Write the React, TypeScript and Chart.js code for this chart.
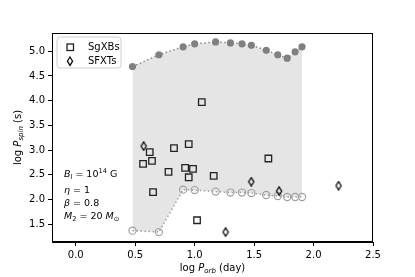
import React, { useEffect, useRef } from 'react';
import { Chart, registerables } from 'chart.js';

Chart.register(...registerables);

// log P_orb (day) of the model grid (3,5,8,10,15,20,25,30,40,50,60,70,80 d)
const curveLogPorb = [0.477, 0.699, 0.903, 1.0, 1.176, 1.301, 1.398, 1.477, 1.602, 1.699, 1.778, 1.845, 1.903];
const upperLogPspin = [4.69, 4.93, 5.09, 5.15, 5.19, 5.17, 5.15, 5.12, 5.02, 4.93, 4.86, 4.99, 5.09];
const lowerLogPspin = [1.37, 1.34, 2.2, 2.19, 2.16, 2.14, 2.14, 2.13, 2.09, 2.07, 2.05, 2.05, 2.05];

const sgxbLogPorb = [0.566, 0.622, 0.641, 0.65, 0.78, 0.826, 0.92, 0.95, 0.95, 0.986, 1.02, 1.06, 1.16, 1.62];
const sgxbLogPspin = [2.72, 2.96, 2.78, 2.15, 2.56, 3.04, 2.64, 3.12, 2.45, 2.62, 1.58, 3.97, 2.48, 2.83];

const sfxtLogPorb = [0.571, 1.26, 1.476, 1.71, 2.21];
const sfxtLogPspin = [3.08, 1.34, 2.36, 2.17, 2.28];

const xTickValues = [0, 0.5, 1.0, 1.5, 2.0, 2.5];
const yTickValues = [1.5, 2.0, 2.5, 3.0, 3.5, 4.0, 4.5, 5.0];
const legendLabels = ['SgXBs', 'SFXTs'];

const FONT = "'DejaVu Sans', sans-serif";
const FS = 10;

type Part = { t: string; it?: boolean; sub?: boolean; sup?: boolean };

function richWidth(ctx: CanvasRenderingContext2D, parts: Part[], size: number) {
  let w = 0;
  for (const p of parts) {
    const s = p.sub || p.sup ? size * 0.7 : size;
    ctx.font = `${p.it ? 'italic ' : ''}${s}px ${FONT}`;
    w += ctx.measureText(p.t).width;
  }
  return w;
}

function drawRich(ctx: CanvasRenderingContext2D, parts: Part[], x: number, y: number, size: number) {
  let cx = x;
  ctx.textBaseline = 'alphabetic';
  ctx.textAlign = 'left';
  for (const p of parts) {
    const s = p.sub || p.sup ? size * 0.7 : size;
    ctx.font = `${p.it ? 'italic ' : ''}${s}px ${FONT}`;
    const dy = p.sub ? size * 0.22 : p.sup ? -size * 0.4 : 0;
    ctx.fillText(p.t, cx, y + dy);
    cx += ctx.measureText(p.t).width;
  }
}

function makeDiamond(): HTMLCanvasElement {
  const c = document.createElement('canvas');
  c.width = 8;
  c.height = 10;
  const g = c.getContext('2d')!;
  g.beginPath();
  g.moveTo(4, 0.8);
  g.lineTo(6.6, 5);
  g.lineTo(4, 9.2);
  g.lineTo(1.4, 5);
  g.closePath();
  g.lineWidth = 1.3;
  g.strokeStyle = '#111';
  g.stroke();
  return c;
}

const decorPlugin = {
  id: 'decor',
  afterDraw(chart: any) {
    const ctx: CanvasRenderingContext2D = chart.ctx;
    const a = chart.chartArea;
    ctx.save();
    // frame
    ctx.strokeStyle = '#000';
    ctx.lineWidth = 1;
    ctx.strokeRect(Math.round(a.left) + 0.5, Math.round(a.top) + 0.5, Math.round(a.right - a.left) - 1, Math.round(a.bottom - a.top) - 1);

    ctx.fillStyle = '#000';
    // x title
    const xt: Part[] = [{ t: 'log ' }, { t: 'P', it: true }, { t: 'orb', it: true, sub: true }, { t: ' (day)' }];
    const xw = richWidth(ctx, xt, FS);
    drawRich(ctx, xt, (a.left + a.right) / 2 - xw / 2, 271, FS);
    // y title
    const yt: Part[] = [{ t: 'log ' }, { t: 'P', it: true }, { t: 'spin', it: true, sub: true }, { t: ' (s)' }];
    const yw = richWidth(ctx, yt, FS);
    ctx.save();
    ctx.translate(21, (a.top + a.bottom) / 2);
    ctx.rotate(-Math.PI / 2);
    drawRich(ctx, yt, -yw / 2, 0, FS);
    ctx.restore();

    // annotations
    const fs2 = 9.5;
    drawRich(ctx, [{ t: 'B', it: true }, { t: 'l', sub: true }, { t: ' = 10' }, { t: '14', sup: true }, { t: ' G' }], 64, 177, fs2);
    drawRich(ctx, [{ t: 'η', it: true }, { t: ' = 1' }], 64, 193, fs2);
    drawRich(ctx, [{ t: 'β', it: true }, { t: ' = 0.8' }], 64, 206, fs2);
    drawRich(ctx, [{ t: 'M', it: true }, { t: '2', sub: true }, { t: ' = 20 ' }, { t: 'M', it: true }, { t: '⊙', sub: true }], 64, 219, fs2);

    // legend
    const lx = 57, ly = 37, lw = 64, lh = 31, r = 3;
    ctx.beginPath();
    ctx.moveTo(lx + r, ly);
    ctx.arcTo(lx + lw, ly, lx + lw, ly + lh, r);
    ctx.arcTo(lx + lw, ly + lh, lx, ly + lh, r);
    ctx.arcTo(lx, ly + lh, lx, ly, r);
    ctx.arcTo(lx, ly, lx + lw, ly, r);
    ctx.closePath();
    ctx.fillStyle = 'rgba(255,255,255,0.8)';
    ctx.fill();
    ctx.strokeStyle = '#d0d0d0';
    ctx.lineWidth = 1;
    ctx.stroke();

    // square marker
    ctx.strokeStyle = '#222';
    ctx.lineWidth = 1.3;
    ctx.strokeRect(67, 44, 6.5, 6.5);
    // diamond marker
    ctx.beginPath();
    ctx.moveTo(70, 57);
    ctx.lineTo(72.6, 61.2);
    ctx.lineTo(70, 65.4);
    ctx.lineTo(67.4, 61.2);
    ctx.closePath();
    ctx.lineWidth = 1.3;
    ctx.strokeStyle = '#111';
    ctx.stroke();

    ctx.fillStyle = '#000';
    ctx.font = `${FS}px ${FONT}`;
    ctx.textBaseline = 'middle';
    ctx.textAlign = 'left';
    ctx.fillText(legendLabels[0], 88, 47);
    ctx.fillText(legendLabels[1], 88, 61);
    ctx.restore();
  },
};

export default function App() {
  const ref = useRef<HTMLCanvasElement>(null);
  useEffect(() => {
    if (!ref.current) return;
    const diamond = makeDiamond();
    const chart = new Chart(ref.current, {
      type: 'line',
      data: {
        datasets: [
          {
            label: 'upper',
            data: curveLogPorb.map((x, i) => ({ x, y: upperLogPspin[i] })),
            borderColor: '#8a8a8a',
            borderWidth: 1.5,
            borderDash: [1.5, 2.5],
            pointRadius: 3.6,
            pointBackgroundColor: '#808080',
            pointBorderColor: '#808080',
            pointBorderWidth: 0,
            fill: { target: 1, above: 'rgb(229,229,229)', below: 'rgb(229,229,229)' },
            order: 2,
          },
          {
            label: 'lower',
            data: curveLogPorb.map((x, i) => ({ x, y: lowerLogPspin[i] })),
            borderColor: '#a0a0a0',
            borderWidth: 1.5,
            borderDash: [1.5, 2.5],
            pointRadius: 3.6,
            pointBackgroundColor: 'rgba(0,0,0,0)',
            pointBorderColor: '#a0a0a0',
            pointBorderWidth: 1.2,
            fill: false,
            order: 3,
          },
          {
            label: legendLabels[0],
            data: sgxbLogPorb.map((x, i) => ({ x, y: sgxbLogPspin[i] })),
            showLine: false,
            pointStyle: 'rect',
            pointRadius: 4.6,
            pointBackgroundColor: 'rgba(0,0,0,0)',
            pointBorderColor: '#222',
            pointBorderWidth: 1.3,
            order: 1,
          },
          {
            label: legendLabels[1],
            data: sfxtLogPorb.map((x, i) => ({ x, y: sfxtLogPspin[i] })),
            showLine: false,
            pointStyle: diamond as any,
            pointRadius: 5,
            order: 0,
          },
        ] as any,
      },
      options: {
        animation: false,
        responsive: false,
        devicePixelRatio: 1,
        layout: { padding: { top: 33, right: 42, left: 0, bottom: 0 } },
        plugins: {
          legend: { display: false },
          tooltip: { enabled: false },
          filler: { drawTime: 'beforeDatasetsDraw' },
        },
        scales: {
          x: {
            type: 'linear',
            min: -0.2,
            max: 2.5,
            afterBuildTicks: (s: any) => {
              s.ticks = xTickValues.map((v) => ({ value: v }));
            },
            afterFit: (s: any) => {
              s.height = 35;
            },
            ticks: {
              font: { family: FONT, size: FS },
              color: '#000',
              padding: 3,
              maxRotation: 0,
              autoSkip: false,
              callback: (v: any) => Number(v).toFixed(1),
            },
            grid: { drawOnChartArea: false, drawTicks: true, tickLength: 4, color: '#000' },
            border: { display: true, color: '#000', width: 1 },
          },
          y: {
            type: 'linear',
            min: 1.14,
            max: 5.37,
            afterBuildTicks: (s: any) => {
              s.ticks = yTickValues.map((v) => ({ value: v }));
            },
            afterFit: (s: any) => {
              s.width = 52;
            },
            ticks: {
              font: { family: FONT, size: FS },
              color: '#000',
              padding: 3,
              autoSkip: false,
              callback: (v: any) => Number(v).toFixed(1),
            },
            grid: { drawOnChartArea: false, drawTicks: true, tickLength: 4, color: '#000' },
            border: { display: true, color: '#000', width: 1 },
          },
        },
      } as any,
      plugins: [decorPlugin],
    });
    return () => chart.destroy();
  }, []);
  return (
    <canvas
      ref={ref}
      width={415}
      height={277}
      style={{ position: 'absolute', left: 0, top: 0, width: 415, height: 277, display: 'block' }}
    />
  );
}
